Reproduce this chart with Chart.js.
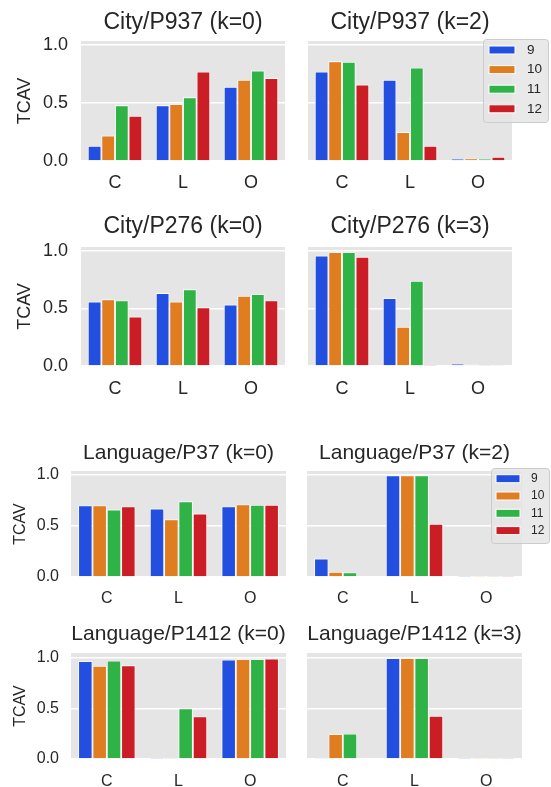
<!DOCTYPE html>
<html>
<head>
<meta charset="utf-8">
<script src="https://cdn.jsdelivr.net/npm/chart.js@4.4.1/dist/chart.umd.min.js"></script>
<style>
  html, body { margin: 0; padding: 0; background: #fff; }
  body { position: relative; width: 551px; height: 787px; overflow: hidden; }
  canvas { position: absolute; }
</style>
</head>
<body>
<canvas id="p1"></canvas>
<canvas id="p2"></canvas>
<canvas id="p3"></canvas>
<canvas id="p4"></canvas>
<canvas id="p5"></canvas>
<canvas id="p6"></canvas>
<canvas id="p7"></canvas>
<canvas id="p8"></canvas>
<script>
const categories = ['C', 'L', 'O'];
const layers = ['9', '10', '11', '12'];
const colors = ['#224fdf', '#df7d20', '#30b346', '#cb1d25'];
const yTicks = [0, 0.5, 1.0];

// one row per layer (9, 10, 11, 12), columns C, L, O
const cityP937k0 = [
  [0.13, 0.48, 0.64],
  [0.22, 0.49, 0.70],
  [0.48, 0.55, 0.78],
  [0.39, 0.77, 0.715]
];
const cityP937k2 = [
  [0.77, 0.70, 0.018],
  [0.86, 0.25, 0.022],
  [0.855, 0.805, 0.018],
  [0.66, 0.13, 0.035]
];
const cityP276k0 = [
  [0.56, 0.635, 0.535],
  [0.58, 0.56, 0.61],
  [0.57, 0.667, 0.625],
  [0.43, 0.51, 0.57]
];
const cityP276k3 = [
  [0.96, 0.59, 0.02],
  [0.99, 0.34, 0.012],
  [0.99, 0.74, 0.003],
  [0.95, 0.003, 0.01]
];
const langP37k0 = [
  [0.70, 0.67, 0.69],
  [0.70, 0.565, 0.71],
  [0.66, 0.74, 0.705],
  [0.69, 0.62, 0.705]
];
const langP37k2 = [
  [0.18, 0.995, 0.003],
  [0.05, 0.995, 0.003],
  [0.045, 0.995, 0.003],
  [0.0, 0.52, 0.003]
];
const langP1412k0 = [
  [0.965, 0.003, 0.98],
  [0.92, 0.003, 0.985],
  [0.97, 0.50, 0.985],
  [0.925, 0.42, 0.99]
];
const langP1412k3 = [
  [0.01, 0.995, 0.002],
  [0.245, 0.995, 0.002],
  [0.25, 0.995, 0.002],
  [0.0, 0.425, 0.002]
];

const FONT = "'Liberation Sans', Arial, sans-serif";
const TEXT = '#262626';

// background of the plot area
const bgPlugin = {
  id: 'plotBg',
  beforeDraw(chart) {
    const a = chart.chartArea, ctx = chart.ctx;
    ctx.save();
    ctx.fillStyle = '#e5e5e5';
    ctx.fillRect(a.left, a.top, a.right - a.left, a.bottom - a.top);
    ctx.restore();
  }
};

// legend box drawn where matplotlib put it (partly outside the axes)
const legendPlugin = {
  id: 'panelLegend',
  afterDraw(chart, args, o) {
    if (!o || !o.box) return;
    const ctx = chart.ctx;
    const [bx, by, bw, bh] = o.box;
    ctx.save();
    ctx.beginPath();
    ctx.roundRect(bx + 0.5, by + 0.5, bw, bh, 3);
    ctx.fillStyle = 'rgba(229,229,229,0.85)';
    ctx.fill();
    ctx.strokeStyle = '#cccccc';
    ctx.lineWidth = 1;
    ctx.stroke();
    ctx.font = o.fontSize + 'px ' + FONT;
    ctx.textBaseline = 'middle';
    chart.data.datasets.forEach((ds, i) => {
      const cy = o.rowY0 + i * o.rowStep;
      ctx.fillStyle = ds.backgroundColor;
      ctx.fillRect(o.patchX, cy - o.patchH / 2, o.patchW, o.patchH);
      ctx.strokeStyle = '#fff';
      ctx.strokeRect(o.patchX, cy - o.patchH / 2, o.patchW, o.patchH);
      ctx.fillStyle = TEXT;
      ctx.fillText(ds.label, o.labelX, cy);
    });
    ctx.restore();
  }
};

const panels = [
  { id: 'p1', values: cityP937k0, title: 'City/P937 (k=0)', x: 0, y: 0, w: 290, h: 200, yW: 81, padL: 0, padR: 5,
    yMax: 1.035, xH: 39, tSize: 23, tPad: [9, 4.4], tickSize: 18, xPad: 11.5, yPad: 13, yTitlePad: 14.5 },
  { id: 'p2', values: cityP937k2, title: 'City/P937 (k=2)', x: 290, y: 0, w: 261, h: 200, yW: 0, padL: 18, padR: 39,
    yMax: 1.035, xH: 39, tSize: 23, tPad: [9, 4.4], tickSize: 18, xPad: 11.5,
    legend: { box: [193, 39, 65, 83], patchX: 199, patchW: 26, patchH: 8, labelX: 237, rowY0: 50, rowStep: 19.6, fontSize: 13.5 } },
  { id: 'p3', values: cityP276k0, title: 'City/P276 (k=0)', x: 0, y: 200, w: 290, h: 200, yW: 81, padL: 0, padR: 5,
    yMax: 1.035, xH: 34, tSize: 23, tPad: [13, 6.4], tickSize: 18, xPad: 12.5, yPad: 13, yTitlePad: 14.5 },
  { id: 'p4', values: cityP276k3, title: 'City/P276 (k=3)', x: 290, y: 200, w: 261, h: 200, yW: 0, padL: 18, padR: 39,
    yMax: 1.035, xH: 34, tSize: 23, tPad: [13, 6.4], tickSize: 18, xPad: 12.5 },
  { id: 'p5', values: langP37k0, title: 'Language/P37 (k=0)', x: 0, y: 400, w: 290, h: 210, yW: 71, padL: 0, padR: 4,
    yMax: 1.037, xH: 33, tSize: 21, tPad: [40.6, 5.2], tickSize: 16, xPad: 12, yPad: 12, yTitlePad: 11.4 },
  { id: 'p6', values: langP37k2, title: 'Language/P37 (k=2)', x: 290, y: 400, w: 261, h: 210, yW: 0, padL: 17, padR: 29,
    yMax: 1.037, xH: 33, tSize: 21, tPad: [40.6, 5.2], tickSize: 16, xPad: 12,
    legend: { box: [201, 68, 58, 75], patchX: 206, patchW: 24, patchH: 8, labelX: 241, rowY0: 78.7, rowStep: 17.3, fontSize: 12 } },
  { id: 'p7', values: langP1412k0, title: 'Language/P1412 (k=0)', x: 0, y: 610, w: 290, h: 177, yW: 71, padL: 0, padR: 4,
    yMax: 1.046, xH: 28, tSize: 21, tPad: [11.6, 6.2], tickSize: 16, xPad: 13, yPad: 12, yTitlePad: 11.4 },
  { id: 'p8', values: langP1412k3, title: 'Language/P1412 (k=3)', x: 290, y: 610, w: 261, h: 177, yW: 0, padL: 17, padR: 29,
    yMax: 1.046, xH: 28, tSize: 21, tPad: [11.6, 6.2], tickSize: 16, xPad: 13 }
];

function makePanel(p) {
  const cv = document.getElementById(p.id);
  cv.width = p.w;
  cv.height = p.h;
  cv.style.left = p.x + 'px';
  cv.style.top = p.y + 'px';
  cv.style.width = p.w + 'px';
  cv.style.height = p.h + 'px';
  const showY = p.yW > 0;

  new Chart(cv, {
    type: 'bar',
    data: {
      labels: categories,
      datasets: layers.map((name, i) => ({
        label: name,
        data: p.values[i],
        backgroundColor: colors[i],
        borderColor: '#ffffff',
        borderWidth: 0.9,
        categoryPercentage: 0.8,
        barPercentage: 1.0
      }))
    },
    options: {
      responsive: false,
      animation: false,
      devicePixelRatio: 1,
      layout: { padding: { left: p.padL, right: p.padR, top: 0, bottom: 0 } },
      plugins: {
        legend: { display: false },
        tooltip: { enabled: false },
        title: {
          display: true,
          text: p.title,
          fullSize: false,
          color: TEXT,
          font: { family: FONT, size: p.tSize, weight: 'normal', lineHeight: 1.2 },
          padding: { top: p.tPad[0], bottom: p.tPad[1] }
        },
        panelLegend: p.legend || false
      },
      scales: {
        x: {
          grid: { display: false, drawTicks: false },
          border: { display: false },
          ticks: { color: TEXT, font: { family: FONT, size: p.tickSize }, padding: p.xPad },
          afterFit: s => { s.height = p.xH; }
        },
        y: {
          min: 0,
          max: p.yMax,
          afterBuildTicks: s => { s.ticks = yTicks.map(v => ({ value: v })); },
          grid: { color: '#ffffff', lineWidth: 1.5, drawTicks: false },
          border: { display: false },
          ticks: {
            display: showY,
            color: TEXT,
            font: { family: FONT, size: p.tickSize },
            padding: p.yPad || 0,
            callback: v => Number(v).toFixed(1)
          },
          title: {
            display: showY,
            text: 'TCAV',
            color: TEXT,
            font: { family: FONT, size: p.tickSize },
            padding: { top: p.yTitlePad || 0, bottom: 0 }
          },
          afterFit: s => { s.width = p.yW; }
        }
      }
    },
    plugins: [bgPlugin, legendPlugin]
  });
}

panels.forEach(makePanel);
</script>
</body>
</html>
